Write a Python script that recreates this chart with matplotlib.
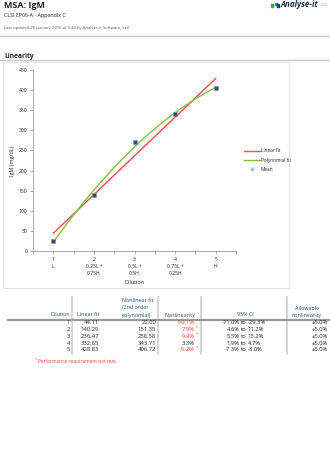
import numpy as np
import matplotlib
matplotlib.use("Agg")
import matplotlib.pyplot as plt
from matplotlib.lines import Line2D
from matplotlib.patches import Rectangle

plt.rcParams['font.family'] = ['Open Sans', 'DejaVu Sans']

# ---- data ----
dilution = [1, 2, 3, 4, 5]
tick_labels = ["1\nL", "2\n0.25L +\n0.75H", "3\n0.5L +\n0.5H", "4\n0.75L +\n0.25H", "5\nH"]
linear_fit = [44.11, 140.29, 236.47, 332.65, 428.83]
poly_fit = [22.00, 151.35, 258.58, 343.71, 406.72]
means = [26, 139, 271, 341, 406]
nonlinearity = ["-50.1%", "7.9%", "9.4%", "3.3%", "-5.2%"]
nonlin_fail = [True, True, True, False, True]
ci_low = ["-71.0%", "4.6%", "5.5%", "1.9%", "-7.3%"]
ci_high = ["-29.3%", "11.2%", "13.2%", "4.7%", "-3.0%"]
allowable = ["±5.0%"] * 5

W, H = 330, 454
fig = plt.figure(figsize=(W / 100, H / 100), dpi=100)

def fx(x):
    return x / W

def fy(y):
    return 1 - y / H

def ftext(x, y, s, **kw):
    fig.text(fx(x), fy(y), s, **kw)

def hline(x0, x1, y, color="#c8c8c8", lw=0.8):
    fig.add_artist(Line2D([fx(x0), fx(x1)], [fy(y), fy(y)], color=color, lw=lw))

def vline(x, y0, y1, color="#c8c8c8", lw=1.0):
    fig.add_artist(Line2D([fx(x), fx(x)], [fy(y0), fy(y1)], color=color, lw=lw))

dark = "#222222"
blue = "#1f4e79"
red = "#e8413e"

# ---- header ----
ftext(4, 5, "MSA: IgM", fontsize=6.5, fontweight="bold", color=dark, va="center")
ftext(4, 15.5, "CLSI EP06-A - Appendix C", fontsize=3.8, color=dark, va="center")
ftext(4, 28, "Last updated 26 January 2016 at 9:44 by Analyse-it Software, Ltd.",
      fontsize=3.0, color="#555555", va="center")
hline(0, 330, 36, lw=1.0)
ftext(4, 56, "Linearity", fontsize=4.8, fontweight="bold", color=dark, va="center")
hline(0, 330, 60, lw=1.0)

# logo
fig.add_artist(Rectangle((fx(271), fy(6.5)), 2.2 / W, 2.2 / H, color="#3aaa35"))
fig.add_artist(Rectangle((fx(274.5), fy(5)), 2.2 / W, 2.2 / H, color="#2a7ab8"))
fig.add_artist(Rectangle((fx(276.5), fy(6.5)), 2.2 / W, 2.2 / H, color="#1c3e6e"))
ftext(280, 4.5, "Analyse-it", fontsize=5.8, fontweight="bold", style="italic",
      color="#1c2e50", va="center")
ftext(321, 5, "v4.60", fontsize=1.8, color="#999999", va="center")

# chart box
fig.add_artist(Rectangle((fx(3), fy(288)), 286 / W, 226 / H, fill=False,
                         edgecolor="#e0e0e0", lw=0.6))

# ---- chart ----
ax = fig.add_axes([fx(33), fy(251), (236 - 33) / W, (251 - 70) / H])
xs = np.linspace(1, 5, 200)
lin_c = np.polyfit(dilution, linear_fit, 1)
pol_c = np.polyfit(dilution, poly_fit, 2)
ax.plot(xs, np.polyval(lin_c, xs), color="#f0504a", lw=1.0, label="Linear fit")
ax.plot(xs, np.polyval(pol_c, xs), color="#7dc242", lw=1.0, label="Polynomial fit")
ax.plot(dilution, means, linestyle="none", marker="s", ms=2.6, color="#3d4a6e",
        markeredgewidth=0.4, markeredgecolor="#7a8cc0", zorder=3)
ax.plot([], [], linestyle="none", marker="+", ms=3, color="#8aa8e0", label="Mean")

ax.set_xlim(0.5, 5.5)
ax.set_ylim(0, 450)
ax.set_xticks(dilution)
ax.set_xticklabels(tick_labels, fontsize=3.6, color=dark, linespacing=1.5)
ax.set_xticks([0.5, 1.5, 2.5, 3.5, 4.5, 5.5], minor=True)
ax.set_yticks(np.arange(0, 451, 50))
ax.tick_params(axis="y", labelsize=3.6, colors="#888888", labelcolor=dark,
               length=2, width=0.5, pad=2)
ax.tick_params(axis="x", which="both", colors="#888888", labelcolor=dark,
               length=2, width=0.5, pad=2)
for s in ["top", "right"]:
    ax.spines[s].set_visible(False)
for s in ["left", "bottom"]:
    ax.spines[s].set_color("#999999")
    ax.spines[s].set_linewidth(0.6)
ax.set_xlabel("Dilution", fontsize=4, color=dark, labelpad=3)
ax.set_ylabel("IgM (mg/dL)", fontsize=4, color=dark, labelpad=3)

leg = ax.legend(loc="center left", bbox_to_anchor=(fx(242), fy(160)),
                bbox_transform=fig.transFigure, frameon=False, fontsize=3.4,
                handlelength=3.4, handletextpad=0.1, labelspacing=0.85,
                borderpad=0)
for t in leg.get_texts():
    t.set_color(dark)

# ---- table ----
vtop, vbot = 297, 354
for x in [72, 158, 201, 287]:
    vline(x, vtop, vbot, color="#d0d0d0", lw=1.2)
hline(8, 330, 319.5, color="#9a9a9a", lw=1.6)

hfs = 3.9
ftext(70, 315, "Dilution", fontsize=hfs, color=blue, ha="right", va="center")
ftext(99, 315, "Linear fit", fontsize=hfs, color=blue, ha="right", va="center")
ftext(122, 301, "Nonlinear fit", fontsize=hfs, color=blue, ha="left", va="center")
ftext(122, 308, "(2nd order", fontsize=hfs, color=blue, ha="left", va="center")
ftext(122, 315, "polynomial)", fontsize=hfs, color=blue, ha="left", va="center")
ftext(195, 315, "Nonlinearity", fontsize=hfs, color=blue, ha="right", va="center")
ftext(245, 315, "95% CI", fontsize=hfs, color=blue, ha="center", va="center")
ftext(307, 308, "Allowable", fontsize=hfs, color=blue, ha="center", va="center")
ftext(307, 315, "nonlinearity", fontsize=hfs, color=blue, ha="center", va="center")

row_y = [323, 329.7, 336.4, 343.1, 349.8]
vfs = 4.2
for i, y in enumerate(row_y):
    ftext(70, y, str(dilution[i]), fontsize=vfs, color=dark, ha="right", va="center")
    ftext(99, y, f"{linear_fit[i]:.2f}", fontsize=vfs, color=dark, ha="right", va="center")
    ftext(156, y, f"{poly_fit[i]:.2f}", fontsize=vfs, color=dark, ha="right", va="center")
    c = red if nonlin_fail[i] else dark
    ftext(195, y, nonlinearity[i], fontsize=vfs, color=c, ha="right", va="center")
    if nonlin_fail[i]:
        ftext(195.5, y - 2.3, "*", fontsize=3.2, color=red, ha="left", va="center")
    ftext(239.5, y, ci_low[i], fontsize=vfs, color=dark, ha="right", va="center")
    ftext(243.5, y, "to", fontsize=vfs, color=dark, ha="center", va="center")
    ftext(247.5, y, ci_high[i], fontsize=vfs, color=dark, ha="left", va="center")
    ftext(328, y, allowable[i], fontsize=vfs, color=dark, ha="right", va="center")

ftext(35, 359.5, "*", fontsize=3.2, color=red, ha="left", va="center")
ftext(38, 361.5, "Performance requirement not met.", fontsize=3.5, color=red,
      ha="left", va="center")

fig.savefig("out.png", dpi=100, facecolor="white")
